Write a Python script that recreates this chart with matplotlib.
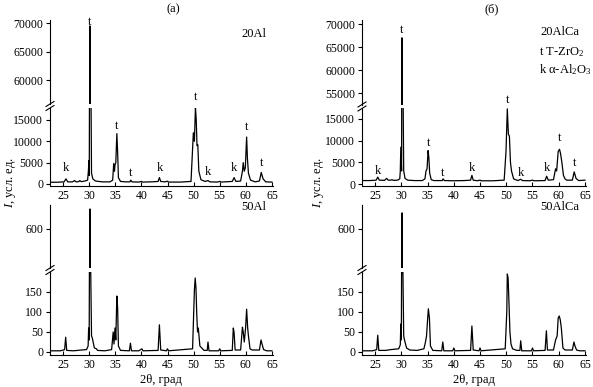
import numpy as np
import matplotlib
matplotlib.use("Agg")
import matplotlib.pyplot as plt
from matplotlib.lines import Line2D

plt.rcParams['font.family'] = ['Liberation Serif', 'DejaVu Serif']
plt.rcParams['mathtext.fontset'] = 'custom'
plt.rcParams['mathtext.rm'] = 'Liberation Serif'
plt.rcParams['mathtext.it'] = 'Liberation Serif:italic'
plt.rcParams['font.size'] = 8.5

# ---- Данные (вершины профилей) ----
tt_20al = [22.5, 24.0, 25.2, 25.55, 25.9, 26.8, 27.2, 27.5, 28.0, 28.2, 28.5, 29.2, 29.7,
           29.85, 29.95, 30.02, 30.1, 30.15, 30.22, 30.3, 30.45, 30.7, 31.2, 32.5, 34.0,
           34.5, 34.7, 34.85, 34.95, 35.1, 35.3, 35.45, 35.6, 36.0, 37.0, 37.8, 37.95,
           38.2, 39.5, 40.0, 40.2, 42.0, 43.2, 43.45, 43.7, 44.5, 45.0, 45.2, 47.5, 49.5,
           49.95, 50.15, 50.35, 50.5, 50.65, 50.8, 51.0, 51.4, 52.2, 52.75, 53.1, 54.5,
           55.0, 55.3, 57.4, 57.75, 58.1, 59.0, 59.35, 59.5, 59.7, 59.9, 60.15, 60.3,
           60.5, 60.9, 61.8, 62.6, 62.95, 63.3, 63.8, 65.0]
i_20al = [400, 420, 500, 1200, 500, 500, 800, 500, 550, 800, 550, 700, 900,
          3000, 5500, 2000, 40000, 69500, 20000, 30000, 2500, 1200, 700, 500, 500,
          900, 4800, 3000, 4500, 5000, 11800, 7500, 1500, 600, 500, 500, 900,
          500, 450, 600, 450, 500, 600, 1500, 600, 500, 650, 450, 450, 600,
          12000, 10000, 18000, 15000, 9000, 9200, 3000, 1000, 600, 800, 500, 450,
          600, 450, 600, 1500, 600, 700, 3000, 5000, 3000, 3800, 11000, 6000,
          2500, 900, 500, 700, 2700, 1200, 500, 450]

tt_20alca = [22.5, 24.0, 25.2, 25.5, 25.8, 26.8, 27.2, 27.5, 28.0, 28.2, 28.5, 29.3, 29.7,
             29.8, 29.9, 30.05, 30.12, 30.2, 30.3, 30.45, 30.7, 31.2, 32.5, 34.0,
             34.5, 34.7, 34.9, 35.1, 35.25, 35.4, 35.7, 36.2, 37.0, 37.8, 37.95,
             38.2, 40.0, 42.0, 43.2, 43.45, 43.7, 44.5, 45.0, 45.2, 47.5, 49.6,
             49.95, 50.2, 50.4, 50.6, 50.8, 51.0, 51.4, 52.2, 52.75, 53.1, 54.5,
             55.0, 55.3, 57.4, 57.7, 58.0, 59.0, 59.4, 59.6, 59.9, 60.15, 60.35,
             60.6, 60.9, 61.2, 61.5, 62.6, 62.95, 63.3, 63.8, 65.0]
i_20alca = [800, 800, 900, 1600, 900, 850, 1300, 900, 900, 1000, 850, 900, 1200,
            3000, 8500, 3000, 67000, 30000, 25000, 3000, 1300, 900, 800, 800,
            1200, 3000, 3500, 7700, 6000, 2500, 1000, 800, 800, 800, 1200,
            800, 750, 800, 900, 2000, 900, 750, 900, 750, 750, 900,
            7500, 17300, 11500, 11000, 5000, 3000, 1200, 800, 1100, 800, 750,
            900, 750, 800, 1800, 900, 1000, 3500, 3000, 7500, 8000, 7000,
            5000, 2000, 1200, 900, 900, 2800, 1300, 800, 900]

tt_50al = [22.5, 24.5, 25.3, 25.5, 25.7, 27.0, 28.5, 29.5, 29.8, 29.9, 30.0, 30.1, 30.15,
           30.22, 30.3, 30.45, 30.6, 31.0, 31.4, 31.6, 33.0, 34.3, 34.6, 34.75, 34.95,
           35.1, 35.3, 35.45, 35.6, 36.0, 37.7, 37.9, 38.1, 39.5, 40.1, 40.3, 43.2,
           43.45, 43.7, 44.8, 45.0, 45.2, 49.8, 50.15, 50.3, 50.45, 50.6, 50.75, 50.9,
           51.2, 52.0, 52.6, 52.75, 52.95, 54.8, 55.0, 55.2, 57.4, 57.6, 57.75, 57.95,
           59.0, 59.35, 59.5, 59.7, 59.95, 60.15, 60.35, 60.5, 60.8, 61.2, 62.6, 62.9,
           63.1, 63.4, 64.0, 65.0]
i_50al = [3, 3, 6, 37, 4, 3, 5, 6, 15, 60, 30, 400, 650,
          200, 200, 40, 35, 10, 8, 4, 3, 6, 50, 20, 60,
          30, 140, 110, 15, 4, 3, 22, 3, 3, 8, 3, 4,
          68, 5, 3, 8, 3, 8, 155, 185, 160, 95, 50, 60,
          15, 4, 4, 25, 3, 3, 8, 3, 4, 60, 48, 5,
          5, 62, 50, 25, 60, 107, 60, 40, 8, 5, 5, 30,
          20, 6, 3, 3]

tt_50alca = [22.5, 24.5, 25.3, 25.5, 25.7, 27.0, 28.0, 29.5, 29.8, 29.9, 30.0, 30.1, 30.15,
             30.22, 30.3, 30.45, 30.6, 31.0, 31.6, 33.0, 34.3, 34.6, 34.8, 35.0, 35.15,
             35.35, 35.55, 36.0, 37.7, 37.9, 38.1, 39.8, 40.0, 40.2, 43.2, 43.45, 43.7,
             44.8, 45.0, 45.2, 49.8, 50.1, 50.2, 50.35, 50.5, 50.7, 50.9, 51.2, 52.0,
             52.6, 52.75, 52.95, 54.8, 55.0, 55.2, 57.4, 57.65, 57.85, 59.0, 59.4, 59.7,
             59.9, 60.1, 60.3, 60.5, 60.8, 61.2, 61.5, 62.6, 62.9, 63.1, 63.4, 64.0, 65.0]
i_50alca = [3, 3, 6, 42, 4, 4, 6, 8, 18, 70, 30, 400, 640,
            200, 200, 40, 30, 10, 5, 4, 8, 25, 40, 80, 108,
            85, 15, 4, 3, 25, 3, 3, 10, 3, 4, 65, 5,
            3, 10, 3, 8, 100, 195, 185, 130, 50, 20, 8, 4,
            4, 28, 3, 3, 10, 3, 4, 53, 5, 5, 30, 40,
            85, 90, 80, 60, 10, 5, 5, 5, 25, 15, 5, 3, 3]

# Подписи фаз над пиками (2θ, буква, высота подписи)
lab_tt_20al = [25.5, 35.3, 37.9, 43.5, 50.4, 52.8, 57.7, 60.2, 63.0]
lab_ch_20al = ['k', 't', 't', 'k', 't', 'k', 'k', 't', 't']
lab_y_20al = [3700, 13600, 2600, 3700, 20300, 2800, 3700, 13300, 4900]
lab_tt_20alca = [25.5, 35.2, 37.9, 43.5, 50.3, 52.8, 57.7, 60.2, 63.0]
lab_ch_20alca = ['k', 't', 't', 'k', 't', 'k', 'k', 't', 't']
lab_y_20alca = [3100, 9400, 2500, 3600, 19300, 2500, 3600, 10500, 4900]

W, H = 593, 387
fig = plt.figure(figsize=(W / 100, H / 100), dpi=100)


def rect(x0, ytop, x1, ybot):
    return [x0 / W, 1 - ybot / H, (x1 - x0) / W, (ybot - ytop) / H]


def broken(x0, x1, top_rows, bot_rows, tt, ii, ylim_hi, ylim_lo, yt_hi, yt_lo):
    ax_hi = fig.add_axes(rect(x0, top_rows[0], x1, top_rows[1]))
    ax_lo = fig.add_axes(rect(x0, bot_rows[0], x1, bot_rows[1]))
    for ax in (ax_hi, ax_lo):
        ax.plot(tt, ii, color='black', lw=0.9)
        ax.set_xlim(22.5, 65.2)
        for s in ('top', 'right'):
            ax.spines[s].set_visible(False)
        ax.spines['left'].set_linewidth(0.8)
        ax.tick_params(axis='y', direction='out', length=3, width=0.8, pad=2)
    ax_hi.set_ylim(*ylim_hi)
    ax_lo.set_ylim(*ylim_lo)
    ax_hi.set_yticks(yt_hi)
    ax_lo.set_yticks(yt_lo)
    ax_hi.spines['bottom'].set_visible(False)
    ax_hi.tick_params(axis='x', bottom=False, labelbottom=False)
    ax_lo.set_xticks([25, 30, 35, 40, 45, 50, 55, 60, 65])
    ax_lo.spines['bottom'].set_linewidth(0.8)
    ax_lo.tick_params(axis='x', direction='in', length=3, width=0.8, pad=3)
    # знак разрыва оси
    xb = x0 / W
    ym = 1 - (top_rows[1] + bot_rows[0]) / 2 / H
    for dy in (-2.0, 2.0):
        fig.add_artist(Line2D([xb - 4 / W, xb + 4 / W],
                              [ym + (dy - 2.5) / H, ym + (dy + 2.5) / H],
                              color='black', lw=0.8))
    return ax_hi, ax_lo


cols = [(50, 273), (362, 586)]

# (а) 20Al
a_hi, a_lo = broken(50, 273, (20, 104), (108, 186), tt_20al, i_20al,
                    (55800, 70530), (-470, 17800),
                    [60000, 65000, 70000], [0, 5000, 10000, 15000])
for x, c, y in zip(lab_tt_20al, lab_ch_20al, lab_y_20al):
    a_lo.text(x, y, c, ha='center', va='center', fontsize=9, clip_on=False)
a_hi.text(30.15, 70200, 't', ha='center', va='center', fontsize=9, clip_on=False)
a_hi.text(64, 68000, '20Al', ha='right', va='center', fontsize=9)

# (а) 50Al
c_hi, c_lo = broken(50, 273, (205, 268), (272, 355), tt_50al, i_50al,
                    (500, 660), (-7.5, 200), [600], [0, 50, 100, 150])
c_hi.text(64, 654, '50Al', ha='right', va='center', fontsize=9, clip_on=False)
c_lo.set_xlabel('2θ, град', fontsize=9, labelpad=2)

# (б) 20AlCa
b_hi, b_lo = broken(362, 586, (20, 105), (108, 186), tt_20alca, i_20alca,
                    (52400, 70870), (-450, 17500),
                    [55000, 60000, 65000, 70000], [0, 5000, 10000, 15000])
for x, c, y in zip(lab_tt_20alca, lab_ch_20alca, lab_y_20alca):
    b_lo.text(x, y, c, ha='center', va='center', fontsize=9, clip_on=False)
b_hi.text(30.1, 68700, 't', ha='center', va='center', fontsize=9, clip_on=False)
b_hi.text(64, 68200, '20AlCa', ha='right', va='center', fontsize=9)
b_hi.text(56.3, 64000, 't T-ZrO$_2$', ha='left', va='center', fontsize=9)
b_hi.text(56.3, 60000, 'k α-Al$_2$O$_3$', ha='left', va='center', fontsize=9)

# (б) 50AlCa
d_hi, d_lo = broken(362, 586, (205, 268), (272, 355), tt_50alca, i_50alca,
                    (500, 660), (-7.5, 200), [600], [0, 50, 100, 150])
d_hi.text(64, 654, '50AlCa', ha='right', va='center', fontsize=9, clip_on=False)
d_lo.set_xlabel('2θ, град', fontsize=9, labelpad=2)

# заголовки и подписи осей
fig.text(173 / W, 1 - 9 / H, '(a)', ha='center', va='center', fontsize=9)
fig.text(492 / W, 1 - 9 / H, '(б)', ha='center', va='center', fontsize=9)
for xl in (11, 318):
    fig.text(xl / W, 1 - 182 / H, '$\\mathit{I}$, усл. ед.', rotation=90,
             ha='center', va='center', fontsize=9)

fig.savefig('out.png', dpi=100)
